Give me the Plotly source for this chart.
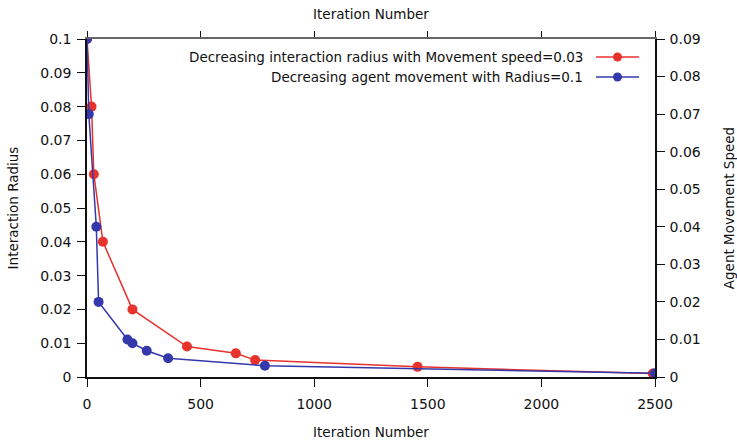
import plotly.graph_objects as go

# Red series: interaction radius (left axis)
red_iter = [0, 20, 30, 70, 200, 440, 655, 740, 1455, 2490]
red_radius = [0.1, 0.08, 0.06, 0.04, 0.02, 0.009, 0.007, 0.005, 0.003, 0.001]
red_name = "Decreasing interaction radius with Movement speed=0.03"

# Blue series: agent movement speed (right axis)
blue_iter = [0, 8, 41, 51, 178, 200, 263, 357, 783, 2500]
blue_speed = [0.09, 0.07, 0.04, 0.02, 0.01, 0.009, 0.007, 0.005, 0.003, 0.001]
blue_name = "Decreasing agent movement with Radius=0.1"

x_ticks = [0, 500, 1000, 1500, 2000, 2500]
y1_ticks = [0, 0.01, 0.02, 0.03, 0.04, 0.05, 0.06, 0.07, 0.08, 0.09, 0.1]
y1_labels = ["0", "0.01", "0.02", "0.03", "0.04", "0.05", "0.06", "0.07", "0.08", "0.09", "0.1"]
y2_ticks = [0, 0.01, 0.02, 0.03, 0.04, 0.05, 0.06, 0.07, 0.08, 0.09]
y2_labels = ["0", "0.01", "0.02", "0.03", "0.04", "0.05", "0.06", "0.07", "0.08", "0.09"]

RED = "#e8322c"
BLUE = "#3438aa"
FONT = "DejaVu Sans"
TXT = "#111111"

fig = go.Figure()
fig.add_trace(go.Scatter(x=red_iter, y=red_radius, mode="lines+markers", name=red_name,
                         line=dict(color=RED, width=1.5), marker=dict(color=RED, size=10),
                         yaxis="y", xaxis="x", showlegend=False))
fig.add_trace(go.Scatter(x=blue_iter, y=blue_speed, mode="lines+markers", name=blue_name,
                         line=dict(color=BLUE, width=1.5), marker=dict(color=BLUE, size=10),
                         yaxis="y2", xaxis="x", showlegend=False))
# invisible trace to carry top axis
fig.add_trace(go.Scatter(x=[0, 2500], y=[0, 0], mode="markers", xaxis="x2", yaxis="y",
                         marker=dict(opacity=0), showlegend=False, hoverinfo="skip"))

tickfont = dict(family=FONT, size=14, color=TXT)
titlefont = dict(family=FONT, size=13.5, color=TXT)

fig.update_layout(
    width=737, height=442,
    margin=dict(l=87, r=82, t=39, b=65),
    plot_bgcolor="white", paper_bgcolor="white",
    xaxis=dict(range=[0, 2500], tickvals=x_ticks, ticktext=[str(v) for v in x_ticks],
               ticks="outside", ticklen=8, tickcolor="#111", showline=True, linecolor="#111",
               linewidth=1.5, showgrid=False, zeroline=False, tickfont=tickfont,
               ticklabelstandoff=5, automargin=False,
               title=dict(text="Iteration Number", font=titlefont, standoff=17)),
    xaxis2=dict(range=[0, 2500], overlaying="x", side="top", tickvals=x_ticks,
                showticklabels=False, ticks="outside", ticklen=6, tickcolor="#111",
                showline=True, linecolor="#666", linewidth=2, showgrid=False, zeroline=False,
                automargin=False,
                title=dict(text="Iteration Number", font=titlefont, standoff=8)),
    yaxis=dict(range=[0, 0.1], tickvals=y1_ticks, ticktext=y1_labels, ticks="outside",
               ticklen=8, tickcolor="#111", showline=True, linecolor="#111", linewidth=1.5,
               showgrid=False, zeroline=False, tickfont=tickfont, ticklabelstandoff=3,
               automargin=False,
               title=dict(text="Interaction Radius", font=titlefont, standoff=19)),
    yaxis2=dict(range=[0, 0.09], overlaying="y", side="right", tickvals=y2_ticks,
                ticktext=y2_labels, ticks="outside", ticklen=8, tickcolor="#111",
                showline=True, linecolor="#111", linewidth=1.5, showgrid=False,
                zeroline=False, tickfont=tickfont, ticklabelstandoff=2, automargin=False,
                title=dict(text="Agent Movement Speed", font=titlefont, standoff=26)),
    showlegend=False,
)

# Manual legend (text right-aligned, sample on the right), in paper coords
px0, px1 = 87, 655
py0, py1 = 39, 377
def xp(px):
    return (px - px0) / (px1 - px0)
def yp(py):
    return 1 - (py - py0) / (py1 - py0)

legend_items = [(red_name, RED, 57), (blue_name, BLUE, 77)]
for name, col, ypix in legend_items:
    fig.add_annotation(x=xp(585), y=yp(ypix), xref="paper", yref="paper", text=name,
                       showarrow=False, xanchor="right", yanchor="middle",
                       font=dict(family=FONT, size=13.5, color=TXT))
    fig.add_shape(type="line", xref="paper", yref="paper", x0=xp(596), x1=xp(639),
                  y0=yp(ypix), y1=yp(ypix), line=dict(color=col, width=1.5))
    fig.add_shape(type="circle", xref="paper", yref="paper", x0=xp(613), x1=xp(622),
                  y0=yp(ypix + 4.5), y1=yp(ypix - 4.5), fillcolor=col, line=dict(color=col, width=0))

fig.write_html("out.html")
